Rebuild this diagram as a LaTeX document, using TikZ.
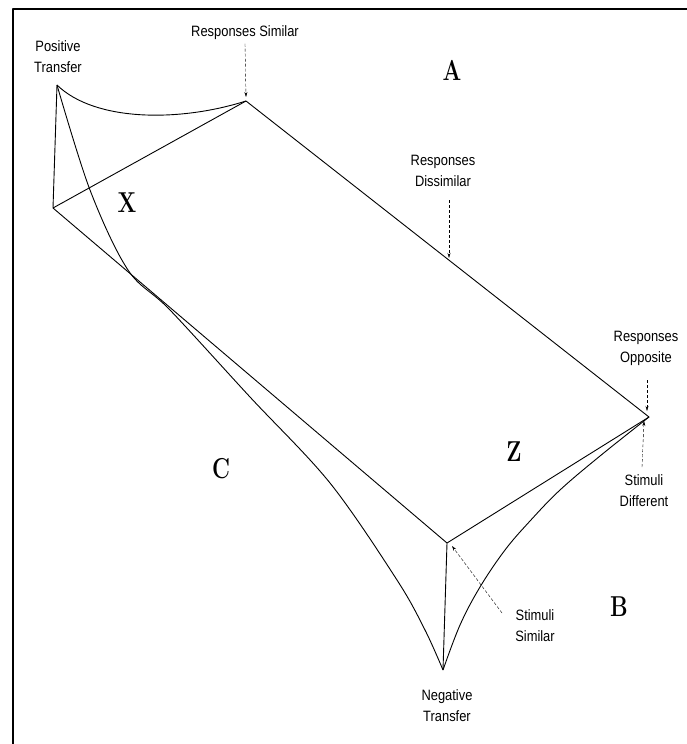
\documentclass[tikz,border=0pt]{standalone}
\usepackage{fontspec}
\setsansfont{Liberation Sans}[FakeStretch=0.86]
\usepackage{tikz}
\usetikzlibrary{arrows.meta}
\newcommand{\tallletter}[1]{\scalebox{0.92}[1.2]{#1}}

\begin{document}
\begin{tikzpicture}[x=1pt, y=-1pt, line join=round,
    edge/.style={line width=0.9pt},
    pointer/.style={-{Stealth[length=5pt,width=3pt]}, densely dashed, line width=0.4pt},
    caption/.style={font=\sffamily\fontsize{15}{21}\selectfont, align=center},
    region/.style={font=\fontsize{24}{24}\selectfont\bfseries}]
\useasboundingbox (0,0) rectangle (687,744);
% frame
\draw[line width=2pt] (13,744) -- (13,9) -- (687,9);
% corners of the surface
\coordinate (P) at (57,85);
\coordinate (RS) at (246,101);
\coordinate (L) at (53,208);
\coordinate (RO) at (649,417);
\coordinate (SS) at (447,543);
\coordinate (NT) at (443,670);
% straight edges
\draw[edge] (P) -- (L) -- (RS) -- (RO) -- (SS) -- (L);
\draw[edge] (SS) -- (NT);
% curved edges
\draw[edge] (P) .. controls (95,122) and (180,122) .. (RS);
\draw[edge] plot[smooth, tension=0.55] coordinates {(P) (90,190) (128,270) (170,310) (250,397) (330,483) (397,580) (425,630) (NT)};
\draw[edge] plot[smooth, tension=0.6] coordinates {(RO) (600,456) (560,490) (530,521) (505,550) (480,587) (460,625) (NT)};
% labels
\node[caption] (pos) at (58,57) {Positive\\Transfer};
\node[caption] (rsim) at (245,33) {Responses Similar};
\node[caption] (rdis) at (443,171) {Responses\\Dissimilar};
\node[caption] (ropp) at (646,348) {Responses\\Opposite};
\node[caption] (sdif) at (644,491) {Stimuli\\Different};
\node[caption] (ssim) at (535,626) {Stimuli\\Similar};
\node[caption] (neg) at (447,706) {Negative\\Transfer};
% pointers
\coordinate (rsimtip) at (246,97);
\coordinate (rdistip) at (449,258);
\coordinate (rdisend) at (449,200);
\coordinate (roppend) at (647,380);
\coordinate (rropptip) at (647,411);
\coordinate (sdifend) at (642,467);
\coordinate (sdiftip) at (644,421);
\coordinate (ssimend) at (502,613);
\coordinate (ssimtip) at (452,546);
\draw[pointer] (rsim.south) -- (rsimtip);
\draw[pointer] (rdisend) -- (rdistip);
\draw[pointer] (roppend) -- (rropptip);
\draw[pointer] (sdifend) -- (sdiftip);
\draw[pointer] (ssimend) -- (ssimtip);
% region letters
\node[region] (A) at (452,70) {\tallletter{A}};
\node[region] (X) at (127,203) {\tallletter{X}};
\node[region] (C) at (221,469) {\tallletter{C}};
\node[region] (Z) at (514,452) {\tallletter{Z}};
\node[region] (B) at (619,607) {\tallletter{B}};
\end{tikzpicture}
\end{document}
